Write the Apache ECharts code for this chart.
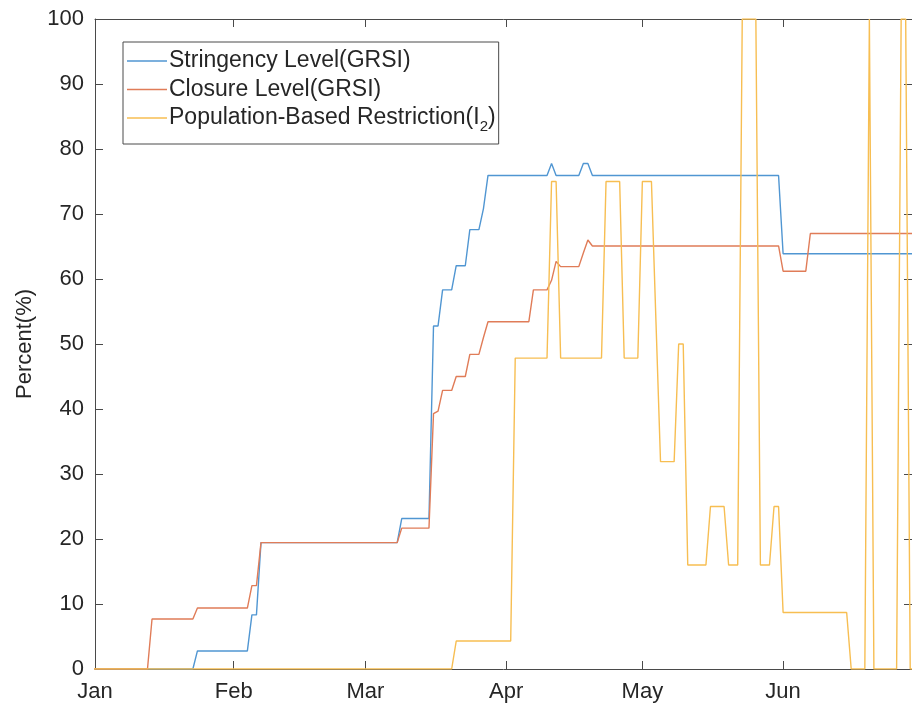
<!DOCTYPE html>
<html>
<head>
<meta charset="utf-8">
<script src="https://cdn.jsdelivr.net/npm/echarts@6/dist/echarts.min.js"></script>
<style>
  html, body { margin: 0; padding: 0; background: #ffffff; }
  #chart { width: 912px; height: 710px; }
</style>
</head>
<body>
<div id="chart"></div>
<script>
// Day index: 0 = 1 January. Each series is a list of [day, percent] vertices.
const stringency = [
  [0, 0], [22, 0], [23, 2.78], [34, 2.78], [35, 8.33], [36, 8.33], [37, 19.44],
  [67, 19.44], [68, 23.15], [74, 23.15], [75, 52.78], [76, 52.78], [77, 58.33],
  [79, 58.33], [80, 62.04], [82, 62.04], [83, 67.59], [85, 67.59], [86, 70.83],
  [87, 75.93], [100, 75.93], [101, 77.78], [102, 75.93], [107, 75.93], [108, 77.78],
  [109, 77.78], [110, 75.93], [151, 75.93], [152, 63.89], [181, 63.89]
];

const closure = [
  [0, 0], [12, 0], [13, 7.69], [22, 7.69], [23, 9.38], [34, 9.38], [35, 12.82],
  [36, 12.82], [37, 19.44], [67, 19.44], [68, 21.67], [74, 21.67], [75, 39.29],
  [76, 39.68], [77, 42.86], [79, 42.86], [80, 45.0], [82, 45.0], [83, 48.41],
  [85, 48.41], [86, 51.0], [87, 53.43], [96, 53.43], [97, 58.33], [100, 58.33],
  [101, 59.8], [102, 62.7], [103, 61.9], [107, 61.9], [108, 64.0], [109, 66.0],
  [110, 65.08], [151, 65.08], [152, 61.2], [157, 61.2], [158, 67.0], [181, 67.0]
];

const populationRestriction = [
  [0, 0], [79, 0], [80, 4.3], [92, 4.3], [93, 47.83], [100, 47.83], [101, 75],
  [102, 75], [103, 47.83], [112, 47.83], [113, 75], [116, 75], [117, 47.83],
  [120, 47.83], [121, 75], [123, 75], [124, 53.4], [125, 31.9], [128, 31.9],
  [129, 50], [130, 50], [131, 16], [135, 16], [136, 25], [139, 25], [140, 16],
  [142, 16], [143, 100], [146, 100], [147, 16], [149, 16], [150, 25], [151, 25],
  [152, 8.7], [166, 8.7], [167, 0], [170, 0], [171, 100], [172, 0], [177, 0],
  [178, 100], [179, 100], [180, 0], [181, 0]
];

const seriesNames = [
  'Stringency Level(GRSI)',
  'Closure Level(GRSI)',
  'Population-Based Restriction(I2)'
];
const legendLabels = [
  'Stringency Level(GRSI)',
  'Closure Level(GRSI)',
  'Population-Based Restriction(I{sub|2})'
];

// Visible date range and month ticks
const xStart = 0.44;
const xEnd = 180.39;
const monthDays = [xStart, 31, 60, 91, 121, 152];
const monthLabels = ['Jan', 'Feb', 'Mar', 'Apr', 'May', 'Jun'];

const yMin = 0, yMax = 100, yStep = 10;

const FONT = "'Liberation Sans', Arial, Helvetica, sans-serif";
const AXIS_COLOR = '#4a4a4a';
const TEXT_COLOR = '#262626';
const colors = ['#5096d2', '#e07c58', '#f7be52'];

const chart = echarts.init(document.getElementById('chart'), null, { renderer: 'canvas' });

function monthLabel(v) {
  let best = 0;
  for (let i = 0; i < monthDays.length; i++) {
    if (Math.abs(monthDays[i] - v) < Math.abs(monthDays[best] - v)) best = i;
  }
  return monthLabels[best];
}

const xTickCommon = {
  axisLine: { show: true, onZero: false, lineStyle: { color: AXIS_COLOR, width: 1 } },
  axisTick: { show: true, inside: true, length: 8, customValues: monthDays,
              lineStyle: { color: AXIS_COLOR, width: 1 } },
  splitLine: { show: false }
};

const yTickCommon = {
  type: 'value', min: yMin, max: yMax, interval: yStep,
  axisLine: { show: true, onZero: false, lineStyle: { color: AXIS_COLOR, width: 1 } },
  axisTick: { show: true, inside: true, length: 8, lineStyle: { color: AXIS_COLOR, width: 1 } },
  splitLine: { show: false }
};

const series = [stringency, closure, populationRestriction].map((pts, i) => ({
  name: seriesNames[i],
  type: 'line',
  data: pts,
  symbol: 'none',
  showSymbol: false,
  clip: true,
  animation: false,
  lineStyle: { color: colors[i], width: 1.4 },
  itemStyle: { color: colors[i] },
  z: 2 + i
}));

chart.setOption({
  backgroundColor: '#ffffff',
  animation: false,
  textStyle: { fontFamily: FONT },
  grid: { left: 95, right: -1, top: 19, bottom: 41, containLabel: false },
  legend: {
    orient: 'vertical',
    left: 123,
    top: 42,
    padding: [7, 3, 10, 4],
    itemGap: 4.5,
    itemWidth: 40,
    itemHeight: 1.4,
    icon: 'rect',
    backgroundColor: '#ffffff',
    borderColor: AXIS_COLOR,
    borderWidth: 1,
    borderRadius: 0,
    data: seriesNames,
    formatter: name => legendLabels[seriesNames.indexOf(name)],
    textStyle: {
      fontFamily: FONT, fontSize: 23, color: TEXT_COLOR, lineHeight: 24, padding: [0, 0, 0, -3],
      rich: {
        sub: { fontFamily: FONT, fontSize: 15, color: TEXT_COLOR, lineHeight: 15, verticalAlign: 'bottom', padding: [0, 0, -4, 0] }
      }
    }
  },
  xAxis: [
    Object.assign({
      type: 'value', min: xStart, max: xEnd, position: 'bottom',
      axisLabel: {
        show: true, customValues: monthDays, formatter: monthLabel,
        fontFamily: FONT, fontSize: 22, color: TEXT_COLOR, margin: 12
      }
    }, xTickCommon),
    Object.assign({
      type: 'value', min: xStart, max: xEnd, position: 'top',
      axisLabel: { show: false }
    }, xTickCommon)
  ],
  yAxis: [
    Object.assign({
      position: 'left',
      name: 'Percent(%)',
      nameLocation: 'middle',
      nameGap: 56,
      nameTextStyle: { fontFamily: FONT, fontSize: 22, color: TEXT_COLOR },
      axisLabel: { show: true, fontFamily: FONT, fontSize: 22, color: TEXT_COLOR, margin: 11 }
    }, yTickCommon),
    Object.assign({
      position: 'right',
      axisLabel: { show: false }
    }, yTickCommon)
  ],
  series: series
});
</script>
</body>
</html>
